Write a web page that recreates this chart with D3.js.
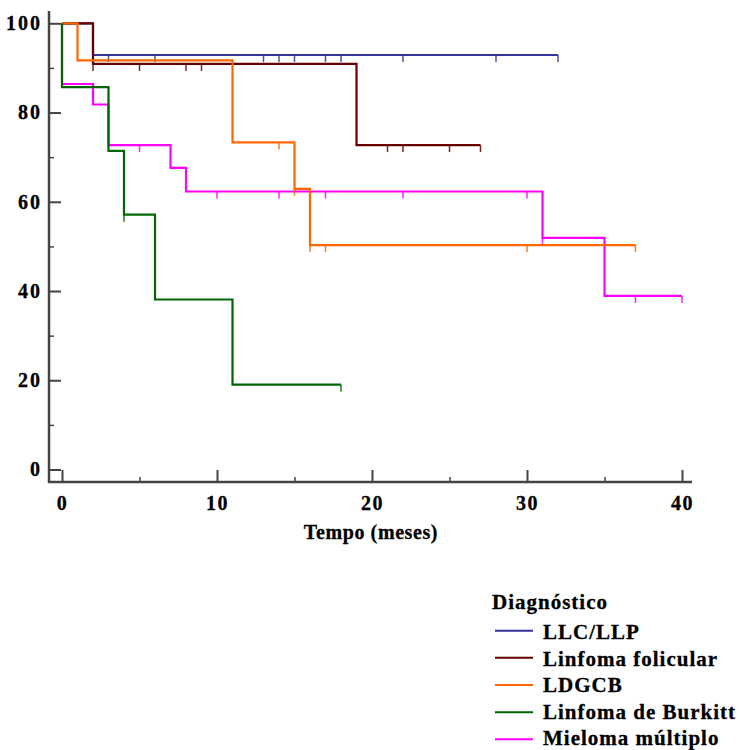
<!DOCTYPE html>
<html>
<head>
<meta charset="utf-8">
<script src="https://cdn.jsdelivr.net/npm/d3@7"></script>
<style>
    body { margin: 0; background: #fff; }
    svg { display: block; }
    text { font-family: "Liberation Serif", "Times New Roman", serif; font-weight: bold; fill: #000; stroke: #000; stroke-width: 0.3; }
</style>
</head>
<body>
<div id="chart"></div>
<script>
// dati (sopravvivenza % per mese)
const seriesNames = ['LLC/LLP', 'Linfoma folicular', 'LDGCB', 'Linfoma de Burkitt', 'Mieloma múltiplo'];
const seriesColors = ['#333399', '#660000', '#ff6600', '#006600', '#ff00ff'];

const llcSteps = [[0, 100], [2, 92.9]];
const folicularSteps = [[0, 100], [2, 90.9], [19, 72.7]];
const ldgcbSteps = [[0, 100], [1, 91.7], [11, 73.3], [15, 62.9], [16, 50.3]];
const burkittSteps = [[0, 100], [0, 85.7], [3, 71.4], [4, 57.1], [6, 38.1], [11, 19.0]];
const mielomaSteps = [[0, 100], [0, 86.4], [2, 81.8], [3, 72.7], [7, 67.6], [8, 62.3], [31, 51.9], [35, 38.9]];

const lastTimes = [32, 27, 37, 18, 40];

const llcCensored = [3, 6, 13, 14, 15, 17, 18, 22, 28, 32];
const folicularCensored = [2, 5, 8, 9, 21, 22, 25, 27];
const ldgcbCensored = [14, 15, 16, 17, 30, 37];
const burkittCensored = [4, 18];
const mielomaCensored = [5, 10, 14, 17, 22, 30, 31, 37, 40];

const xTicks = [0, 10, 20, 30, 40];
const xMinorTicks = [5, 15, 25, 35];
const yTicks = [0, 20, 40, 60, 80, 100];
const yMinorTicks = [10, 30, 50, 70, 90];

const allSteps = [llcSteps, folicularSteps, ldgcbSteps, burkittSteps, mielomaSteps];
const allCensored = [llcCensored, folicularCensored, ldgcbCensored, burkittCensored, mielomaCensored];
const drawOrder = [4, 0, 1, 2, 3];

const width = 739, height = 750;
const svg = d3.select('#chart').append('svg')
    .attr('width', width)
    .attr('height', height);

const x = d3.scaleLinear().domain([0, 40]).range([62, 682]);
const y = d3.scaleLinear().domain([0, 100]).range([469.5, 23.3]);
const axisX = 49, axisY = 482;

// assi
const axisColor = '#444';

const yAxis = svg.append('g')
    .attr('transform', `translate(${axisX},0)`)
    .call(d3.axisLeft(y).tickValues(yTicks).tickSize(-12).tickPadding(7));
yAxis.select('.domain').remove();
yAxis.selectAll('line').attr('stroke', axisColor).attr('stroke-width', 2);
yAxis.selectAll('text')
    .attr('font-size', 20)
    .attr('letter-spacing', 2)
    .attr('font-family', null);

const yMinor = svg.append('g')
    .attr('transform', `translate(${axisX},0)`)
    .call(d3.axisLeft(y).tickValues(yMinorTicks).tickSize(-5).tickFormat(''));
yMinor.select('.domain').remove();
yMinor.selectAll('line').attr('stroke', axisColor).attr('stroke-width', 1.5);

const xAxis = svg.append('g')
    .attr('transform', `translate(0,${axisY})`)
    .call(d3.axisBottom(x).tickValues(xTicks).tickSize(-12).tickPadding(14));
xAxis.select('.domain').remove();
xAxis.selectAll('line').attr('stroke', axisColor).attr('stroke-width', 2);
xAxis.selectAll('text')
    .attr('font-size', 20)
    .attr('letter-spacing', 1.5)
    .attr('font-family', null);

const xMinor = svg.append('g')
    .attr('transform', `translate(0,${axisY})`)
    .call(d3.axisBottom(x).tickValues(xMinorTicks).tickSize(-5).tickFormat(''));
xMinor.select('.domain').remove();
xMinor.selectAll('line').attr('stroke', axisColor).attr('stroke-width', 1.5);

svg.append('line')
    .attr('x1', axisX).attr('x2', axisX)
    .attr('y1', 11).attr('y2', axisY + 1)
    .attr('stroke', axisColor).attr('stroke-width', 2.5);
svg.append('line')
    .attr('x1', axisX - 1).attr('x2', 692)
    .attr('y1', axisY).attr('y2', axisY)
    .attr('stroke', axisColor).attr('stroke-width', 2.5);

svg.append('text')
    .attr('x', 371)
    .attr('y', 539)
    .attr('text-anchor', 'middle')
    .attr('font-size', 20)
    .attr('letter-spacing', 0.6)
    .text('Tempo (meses)');

// curve di sopravvivenza
const line = d3.line()
    .x(d => x(d[0]))
    .y(d => y(d[1]))
    .curve(d3.curveStepAfter);

function valueAt(steps, t) {
    let v = steps[0][1];
    steps.forEach(s => { if (s[0] <= t) v = s[1]; });
    return v;
}

drawOrder.forEach(i => {
    const steps = allSteps[i];
    const pts = steps.concat([[lastTimes[i], steps[steps.length - 1][1]]]);
    const g = svg.append('g');

    g.append('path')
        .datum(pts)
        .attr('d', line)
        .attr('fill', 'none')
        .attr('stroke', seriesColors[i])
        .attr('stroke-width', 2.2);

    g.selectAll('line.censor')
        .data(allCensored[i])
        .enter().append('line')
        .attr('class', 'censor')
        .attr('x1', d => x(d))
        .attr('x2', d => x(d))
        .attr('y1', d => y(valueAt(steps, d)))
        .attr('y2', d => y(valueAt(steps, d)) + 7)
        .attr('stroke', seriesColors[i])
        .attr('stroke-width', 1.5)
        .attr('opacity', 0.85);
});

// legenda
const legend = svg.append('g');
legend.append('text')
    .attr('x', 492)
    .attr('y', 609)
    .attr('font-size', 21)
    .attr('letter-spacing', 1)
    .text('Diagnóstico');

legend.selectAll('line.key')
    .data(seriesNames)
    .enter().append('line')
    .attr('class', 'key')
    .attr('x1', 495).attr('x2', 533)
    .attr('y1', (d, i) => 630.7 + i * 27.15)
    .attr('y2', (d, i) => 630.7 + i * 27.15)
    .attr('stroke', (d, i) => seriesColors[i])
    .attr('stroke-width', 2);

legend.selectAll('text.key')
    .data(seriesNames)
    .enter().append('text')
    .attr('class', 'key')
    .attr('x', 543)
    .attr('y', (d, i) => 639.3 + i * 26.4)
    .attr('font-size', 21)
    .attr('letter-spacing', 1)
    .text(d => d);
</script>
</body>
</html>
